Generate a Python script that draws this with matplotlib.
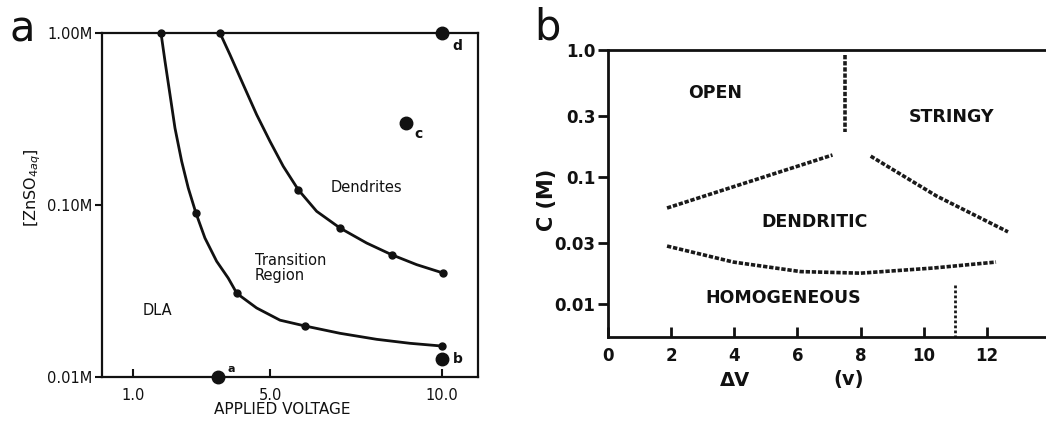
import matplotlib
matplotlib.use("Agg")
import matplotlib.pyplot as plt
from matplotlib.ticker import NullLocator, FixedLocator, FixedFormatter

# ---- panel a: ZnSO4 concentration vs applied voltage ----
# boundary DLA / transition (points read along the drawn curve; dla_mark = measured dots)
dla_v = [1.816, 1.933, 2.079, 2.224, 2.419, 2.611, 2.835, 3.097, 3.438, 3.776, 4.03,
         4.604, 5.286, 6.014, 7.035, 8.105, 9.076, 10.0]
dla_c = [1.0, 0.685, 0.438, 0.280, 0.1795, 0.1256, 0.0898, 0.0643, 0.0471, 0.0376, 0.0306,
         0.0252, 0.0214, 0.0198, 0.01795, 0.01656, 0.0157, 0.01514]
dla_mark = [1, 0, 0, 0, 0, 0, 1, 0, 0, 0, 1, 0, 0, 1, 0, 0, 0, 1]

# boundary transition / dendrites
den_v = [3.536, 3.828, 4.216, 4.606, 4.994, 5.381, 5.819, 6.355, 7.035, 7.813, 8.542,
         9.271, 10.046]
den_c = [1.0, 0.748, 0.5004, 0.335, 0.2346, 0.1679, 0.1227, 0.0919, 0.0735, 0.0601, 0.0514,
         0.0450, 0.0402]
den_mark = [1, 0, 0, 0, 0, 0, 1, 0, 1, 0, 1, 0, 1]

# labelled sample points
pt_names = ["a", "b", "c", "d"]
pt_v = [3.48, 10.0, 8.96, 10.0]
pt_c = [0.01, 0.0127, 0.30, 1.0]

# ---- panel b: C vs delta V ----
open_str_v = [7.52, 7.52]
open_str_c = [0.91, 0.226]
left_v = [1.87, 7.11]
left_c = [0.057, 0.149]
right_v = [8.32, 10.4, 12.67]
right_c = [0.146, 0.071, 0.037]
low_v = [1.87, 3.97, 6.1, 8.0, 10.3, 12.29]
low_c = [0.0286, 0.0214, 0.018, 0.0175, 0.0192, 0.0214]
homo_v = [10.98, 10.98]
homo_c = [0.014, 0.0055]

W, H = 1046, 421
fig = plt.figure(figsize=(W / 100, H / 100), dpi=100)
fig.patch.set_facecolor("white")

ink = "#111111"

# ================= panel a =================
ax = fig.add_axes([102 / W, 1 - 377 / H, 376 / W, 344 / H])
ax.set_yscale("log")
ax.set_xlim(0.096, 11.06)
ax.set_ylim(0.01, 1.0)

ax.plot(dla_v, dla_c, color=ink, lw=2.0, solid_joinstyle="round")
ax.plot(den_v, den_c, color=ink, lw=2.0, solid_joinstyle="round")
ax.plot([v for v, m in zip(dla_v, dla_mark) if m], [c for c, m in zip(dla_c, dla_mark) if m],
        "o", color=ink, ms=5, clip_on=False)
ax.plot([v for v, m in zip(den_v, den_mark) if m], [c for c, m in zip(den_c, den_mark) if m],
        "o", color=ink, ms=5, clip_on=False)
ax.plot(pt_v, pt_c, "o", color=ink, ms=9, clip_on=False, zorder=5)
offsets = {"a": (7, 6), "b": (8, 0), "c": (6, -8), "d": (8, -9)}
for n, v, c in zip(pt_names, pt_v, pt_c):
    ax.annotate(n, (v, c), xytext=offsets[n], textcoords="offset points",
                fontsize=10 if n != "a" else 8, fontweight="bold", color=ink,
                ha="left", va="center")

ax.text(7.82, 0.126, "Dendrites", fontsize=10.5, ha="center", va="center", color=ink)
ax.text(4.56, 0.043, "Transition\nRegion", fontsize=10.5, ha="left", va="center",
        color=ink, linespacing=0.95)
ax.text(1.70, 0.0242, "DLA", fontsize=10.5, ha="center", va="center", color=ink)

ax.xaxis.set_major_locator(FixedLocator([1.0, 5.0, 10.0]))
ax.xaxis.set_major_formatter(FixedFormatter(["1.0", "5.0", "10.0"]))
ax.yaxis.set_major_locator(FixedLocator([0.01, 0.1, 1.0]))
ax.yaxis.set_major_formatter(FixedFormatter(["0.01M", "0.10M", "1.00M"]))
ax.yaxis.set_minor_locator(NullLocator())
ax.xaxis.set_minor_locator(NullLocator())
ax.tick_params(axis="x", direction="in", length=6, width=1.5, labelsize=10.5, pad=8, colors=ink)
ax.tick_params(axis="y", direction="out", length=5, width=1.5, labelsize=10.5, pad=2, colors=ink)
for s in ax.spines.values():
    s.set_linewidth(1.6)
    s.set_color(ink)

fig.text(282 / W, 1 - 410 / H, "APPLIED VOLTAGE", fontsize=11, ha="center", va="center", color=ink)
fig.text(33 / W, 1 - 188 / H, r"[ZnSO$_{4aq}$]", fontsize=11.5, rotation=90,
         ha="center", va="center", color=ink)
fig.text(22 / W, 1 - 30 / H, "a", fontsize=30, ha="center", va="center", color=ink)

# ================= panel b =================
bx = fig.add_axes([608 / W, 1 - 337 / H, 442 / W, 287 / H])
bx.set_yscale("log")
bx.set_xlim(0, 14)
bx.set_ylim(0.0055, 1.0)

dot = dict(color="#1a1a1a", lw=2.6, linestyle=(0, (1.2, 0.5)))
bx.plot(open_str_v, open_str_c, **dot)
bx.plot(left_v, left_c, **dot)
bx.plot(right_v, right_c, **dot)
bx.plot(low_v, low_c, **dot)
bx.plot(homo_v, homo_c, color="#1a1a1a", lw=2.0, linestyle=(0, (1.0, 0.8)))

lab = dict(fontsize=12.5, fontweight="bold", ha="center", va="center", color=ink)
bx.text(3.39, 0.458, "OPEN", **lab)
bx.text(10.89, 0.297, "STRINGY", **lab)
bx.text(6.55, 0.0442, "DENDRITIC", **lab)
bx.text(5.54, 0.0111, "HOMOGENEOUS", **lab)

bx.xaxis.set_major_locator(FixedLocator([0, 2, 4, 6, 8, 10, 12]))
bx.yaxis.set_major_locator(FixedLocator([0.01, 0.03, 0.1, 0.3, 1.0]))
bx.yaxis.set_major_formatter(FixedFormatter(["0.01", "0.03", "0.1", "0.3", "1.0"]))
bx.yaxis.set_minor_locator(NullLocator())
bx.tick_params(axis="x", direction="in", length=7, width=2, labelsize=12, pad=7, colors=ink)
bx.tick_params(axis="y", direction="out", length=7, width=2, labelsize=12, pad=2, colors=ink)
for t in bx.get_xticklabels() + bx.get_yticklabels():
    t.set_fontweight("bold")
for s in bx.spines.values():
    s.set_linewidth(2.0)
    s.set_color(ink)

fig.text(547 / W, 1 - 200 / H, "C (M)", fontsize=15, fontweight="bold", rotation=90,
         ha="center", va="center", color=ink)
fig.text(735 / W, 1 - 380 / H, "ΔV", fontsize=14, fontweight="bold", ha="center", va="center", color=ink)
fig.text(849 / W, 1 - 380 / H, "(v)", fontsize=14, fontweight="bold", ha="center", va="center", color=ink)
fig.text(547 / W, 1 - 27 / H, "b", fontsize=30, ha="center", va="center", color=ink)

plt.savefig("out.png", dpi=100)
